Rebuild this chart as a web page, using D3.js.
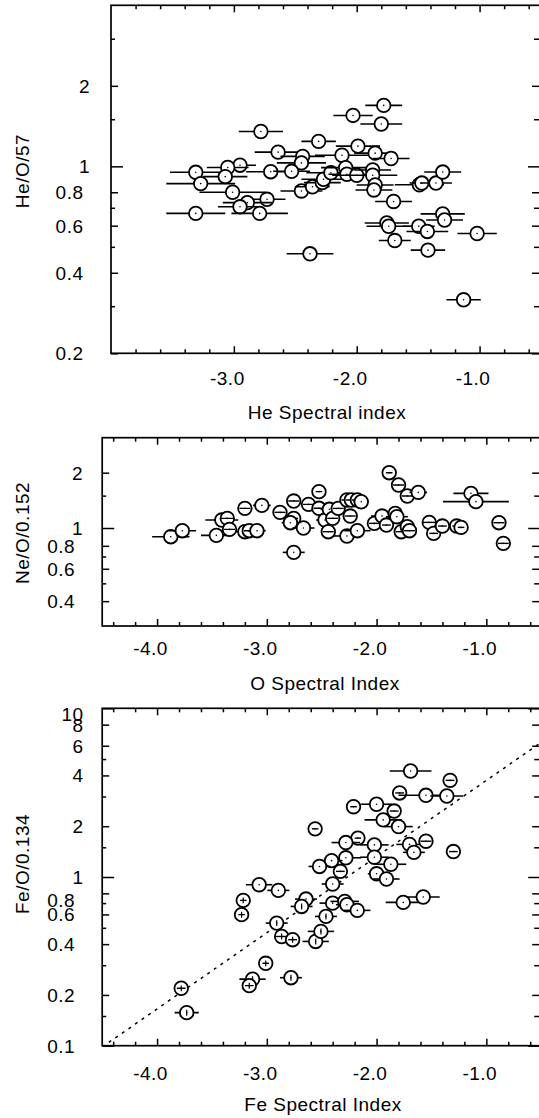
<!DOCTYPE html>
<html>
<head>
<meta charset="utf-8">
<script src="https://cdn.jsdelivr.net/npm/d3@7"></script>
<style>
  body { margin: 0; background: #fff; }
  svg text { font-family: "Liberation Sans", Arial, sans-serif; font-size: 19px; letter-spacing: 0.5px; fill: #000; }
</style>
</head>
<body>
<svg id="chart" width="539" height="1118"></svg>
<script>
// He/O (scaled by 57) vs He spectral index: [index, ratio, index error]
const heData = [
  [-1.78, 1.69, 0.15], [-2.03, 1.55, 0.16], [-1.80, 1.44, 0.17], [-2.78, 1.35, 0.18],
  [-2.31, 1.24, 0.14], [-1.99, 1.19, 0.18], [-2.64, 1.13, 0.19], [-1.85, 1.12, 0.17],
  [-2.12, 1.10, 0.22], [-2.44, 1.09, 0.18], [-2.45, 1.03, 0.20], [-1.72, 1.07, 0.15],
  [-2.95, 1.01, 0.13], [-3.05, 0.99, 0.17], [-3.31, 0.95, 0.21], [-3.07, 0.915, 0.18],
  [-2.70, 0.955, 0.20], [-2.53, 0.958, 0.15], [-3.27, 0.862, 0.28], [-3.01, 0.80, 0.27],
  [-2.73, 0.753, 0.15], [-2.89, 0.732, 0.20], [-2.95, 0.706, 0.18], [-2.79, 0.667, 0.23],
  [-3.31, 0.667, 0.24], [-2.45, 0.809, 0.17], [-2.36, 0.839, 0.14], [-2.28, 0.869, 0.15],
  [-2.27, 0.895, 0.18], [-2.21, 0.946, 0.20], [-2.09, 0.989, 0.20], [-2.08, 0.934, 0.15],
  [-2.00, 0.926, 0.20], [-1.87, 0.969, 0.15], [-1.87, 0.926, 0.20], [-1.85, 0.852, 0.15],
  [-1.86, 0.816, 0.15], [-1.70, 0.739, 0.15], [-1.755, 0.614, 0.18], [-1.74, 0.597, 0.18],
  [-1.69, 0.528, 0.13], [-1.49, 0.853, 0.20], [-1.47, 0.866, 0.10], [-1.355, 0.866, 0.13],
  [-1.30, 0.952, 0.15], [-1.30, 0.664, 0.18], [-1.285, 0.63, 0.15], [-1.495, 0.597, 0.13],
  [-1.425, 0.571, 0.17], [-1.42, 0.486, 0.14], [-1.02, 0.561, 0.16], [-1.13, 0.317, 0.14],
  [-2.38, 0.471, 0.19]
];

// Ne/O (scaled by 0.152) vs O spectral index
const neData = [
  [-3.875, 0.897, 0.17], [-3.77, 0.967, 0.125], [-3.46, 0.912, 0.14], [-3.41, 1.105, 0.15],
  [-3.36, 1.128, 0.06], [-3.34, 0.983, 0.05], [-3.20, 1.279, 0.05], [-3.20, 0.955, 0.08],
  [-3.16, 0.967, 0.05], [-3.09, 0.967, 0.08], [-3.045, 1.328, 0.08], [-2.88, 1.217, 0.05],
  [-2.755, 1.402, 0.05], [-2.755, 1.129, 0.04], [-2.785, 1.069, 0.08], [-2.666, 1.0, 0.10],
  [-2.755, 0.737, 0.10], [-2.62, 1.345, 0.05], [-2.525, 1.577, 0.03], [-2.525, 1.28, 0.05],
  [-2.47, 1.105, 0.08], [-2.44, 0.955, 0.05], [-2.43, 1.264, 0.08], [-2.40, 1.129, 0.05],
  [-2.35, 1.279, 0.05], [-2.27, 1.42, 0.05], [-2.27, 0.905, 0.12], [-2.24, 1.162, 0.05],
  [-2.23, 1.42, 0.05], [-2.175, 1.42, 0.05], [-2.14, 1.39, 0.07], [-2.175, 0.967, 0.12],
  [-2.02, 1.06, 0.05], [-1.95, 1.162, 0.10], [-1.91, 1.038, 0.04], [-1.885, 2.0, 0.03],
  [-1.80, 1.714, 0.05], [-1.83, 1.2, 0.05], [-1.815, 1.152, 0.10], [-1.775, 0.955, 0.05],
  [-1.72, 1.493, 0.05], [-1.72, 1.017, 0.04], [-1.70, 0.967, 0.05], [-1.62, 1.563, 0.08],
  [-1.52, 1.073, 0.06], [-1.48, 0.935, 0.04], [-1.40, 1.025, 0.04], [-1.27, 1.025, 0.04],
  [-1.23, 1.008, 0.03], [-1.14, 1.544, 0.16], [-1.095, 1.391, 0.30], [-0.885, 1.069, 0.05],
  [-0.845, 0.825, 0.05]
];

// Fe/O (scaled by 0.134) vs Fe spectral index: [index, ratio, index error, relative ratio error]
const feData = [
  [-1.69, 4.25, 0.19, 0], [-1.33, 3.74, 0.04, 0], [-1.79, 3.15, 0.04, 0], [-1.55, 3.05, 0.25, 0],
  [-1.36, 3.02, 0.15, 0], [-2.21, 2.61, 0.03, 0], [-2.00, 2.70, 0.14, 0], [-1.84, 2.46, 0.04, 0],
  [-1.94, 2.18, 0.17, 0], [-1.80, 1.99, 0.13, 0], [-2.56, 1.93, 0.03, 0], [-2.17, 1.70, 0.03, 0],
  [-2.28, 1.60, 0.13, 0], [-2.02, 1.55, 0.13, 0], [-1.70, 1.56, 0.12, 0], [-1.55, 1.63, 0.05, 0],
  [-1.66, 1.40, 0.10, 0], [-1.30, 1.415, 0.04, 0], [-2.02, 1.31, 0.13, 0], [-2.28, 1.30, 0.14, 0],
  [-2.41, 1.25, 0.10, 0], [-2.52, 1.155, 0.10, 0], [-1.87, 1.19, 0.14, 0], [-2.33, 1.08, 0.04, 0],
  [-2.00, 1.045, 0.08, 0], [-1.91, 0.973, 0.12, 0], [-3.07, 0.90, 0.12, 0], [-2.895, 0.833, 0.10, 0],
  [-2.40, 0.909, 0.10, 0], [-1.757, 0.707, 0.16, 0], [-1.575, 0.761, 0.15, 0], [-3.215, 0.727, 0.03, 0.04],
  [-2.643, 0.74, 0.10, 0], [-3.23, 0.598, 0.03, 0.04], [-2.683, 0.669, 0.10, 0.04], [-2.40, 0.70, 0.12, 0],
  [-2.29, 0.717, 0.13, 0], [-2.27, 0.685, 0.10, 0], [-2.176, 0.634, 0.12, 0], [-2.91, 0.533, 0.10, 0.04],
  [-2.865, 0.444, 0.06, 0.04], [-2.765, 0.425, 0.04, 0.04], [-2.555, 0.415, 0.12, 0.04], [-2.507, 0.476, 0.12, 0.04],
  [-2.461, 0.584, 0.10, 0.04], [-3.01, 0.308, 0.03, 0.04], [-3.13, 0.248, 0.12, 0.04], [-3.16, 0.227, 0.04, 0.04],
  [-2.78, 0.253, 0.10, 0.04], [-3.78, 0.219, 0.04, 0.04], [-3.73, 0.157, 0.11, 0.04]
];

// dotted fit in panel 3: log10(ratio) = logAtMinus2 + slope * (index + 2)
const feFitSlope = 0.4515;
const feFitLogAtMinus2 = 0.121;

const heXTicks = [-3, -2, -1];
const wideXTicks = [-4, -3, -2, -1];
const heYLabels = [0.2, 0.4, 0.6, 0.8, 1, 2];
const heYMinor = [0.3, 0.5, 0.7, 1.5, 3];
const neYLabels = [0.4, 0.6, 0.8, 1, 2];
const neYMinor = [0.5, 0.7, 1.5];
const feYLabels = [0.1, 0.2, 0.4, 0.6, 0.8, 1, 2, 4, 6, 8, 10];
const feYMinor = [0.15, 0.3, 0.5, 0.7, 1.5, 3, 5];

const panels = [
  { id: 'he', data: heData, box: { l: 111, r: 541, t: 5.3, b: 353.3 },
    xDomain: [-4, -0.5], yDomain: [0.2, 4], xTicks: heXTicks, yLabels: heYLabels, yMinor: heYMinor,
    xTitle: 'He Spectral index', yTitle: 'He/O/57', xLabelY: 385, xTitleX: 327, xTitleY: 418.7,
    yTitleY: 171, intGap: 21, decGap: 27.5, nudge: {} },
  { id: 'ne', data: neData, box: { l: 102.2, r: 541.2, t: 437.7, b: 626 },
    xDomain: [-4.5, -0.5], yDomain: [0.293, 3.1], xTicks: wideXTicks, yLabels: neYLabels, yMinor: neYMinor,
    xTitle: 'O Spectral Index', yTitle: 'Ne/O/0.152', xLabelY: 655, xTitleX: 325, xTitleY: 690.3,
    yTitleY: 533, intGap: 19, decGap: 27, nudge: {} },
  { id: 'fe', data: feData, box: { l: 102.2, r: 541.2, t: 708.3, b: 1045.7 },
    xDomain: [-4.5, -0.5], yDomain: [0.1, 10], xTicks: wideXTicks, yLabels: feYLabels, yMinor: feYMinor,
    xTitle: 'Fe Spectral Index', yTitle: 'Fe/O/0.134', xLabelY: 1080, xTitleX: 323, xTitleY: 1111,
    yTitleY: 864, intGap: 18.5, decGap: 27, nudge: { 10: 6, 0.8: 7 }, fit: true }
];

const svg = d3.select('#chart');
svg.append('rect').attr('width', 539).attr('height', 1118).attr('fill', '#fff');

const R = 6.8;

function drawPanel(p) {
  const b = p.box;
  const x = d3.scaleLinear().domain(p.xDomain).range([b.l, b.r]);
  const y = d3.scaleLog().domain(p.yDomain).range([b.b, b.t]);
  const g = svg.append('g');

  const xMinor = d3.range(Math.floor(p.xDomain[0] * 5) + 1, Math.ceil(p.xDomain[1] * 5))
    .map(k => k / 5).filter(v => Math.abs(v - Math.round(v)) > 1e-6);

  const decades = p.yLabels.filter(v => Math.abs(Math.log10(v) - Math.round(Math.log10(v))) < 1e-9);
  const labelled = p.yLabels.filter(v => !decades.includes(v));

  function tickAxis(axisFn, scale, pos, values, size) {
    const a = g.append('g')
      .attr('transform', pos)
      .call(axisFn(scale).tickValues(values).tickSize(-size).tickSizeOuter(0).tickFormat(''));
    a.select('.domain').remove();
    a.selectAll('line').attr('stroke', '#000').attr('stroke-width', 1.5);
  }

  // x ticks, bottom and top
  tickAxis(d3.axisBottom, x, `translate(0,${b.b})`, p.xTicks, 7);
  tickAxis(d3.axisBottom, x, `translate(0,${b.b})`, xMinor, 4);
  tickAxis(d3.axisTop, x, `translate(0,${b.t})`, p.xTicks, 7);
  tickAxis(d3.axisTop, x, `translate(0,${b.t})`, xMinor, 4);
  // y ticks, left and right (right frame edge lies just past the page)
  tickAxis(d3.axisLeft, y, `translate(${b.l},0)`, decades, 12);
  tickAxis(d3.axisLeft, y, `translate(${b.l},0)`, labelled, 7);
  tickAxis(d3.axisLeft, y, `translate(${b.l},0)`, p.yMinor, 4);
  tickAxis(d3.axisRight, y, `translate(${b.r},0)`, decades, 13);
  tickAxis(d3.axisRight, y, `translate(${b.r},0)`, labelled, 9);
  tickAxis(d3.axisRight, y, `translate(${b.r},0)`, p.yMinor, 7);

  g.append('rect')
    .attr('x', b.l).attr('y', b.t).attr('width', b.r - b.l).attr('height', b.b - b.t)
    .attr('fill', 'none').attr('stroke', '#000').attr('stroke-width', 1.7);

  // tick labels
  g.selectAll('text.xl').data(p.xTicks).join('text')
    .attr('class', 'xl')
    .attr('x', d => x(d) - 6.5).attr('y', p.xLabelY)
    .attr('text-anchor', 'middle')
    .text(d => d.toFixed(1));

  g.selectAll('text.yl').data(p.yLabels).join('text')
    .attr('class', 'yl')
    .attr('x', d => b.l - (Number.isInteger(d) ? p.intGap : p.decGap))
    .attr('y', d => y(d) + 7 + (p.nudge[d] || 0))
    .attr('text-anchor', 'end')
    .text(d => String(d));

  // titles
  g.append('text').attr('x', p.xTitleX).attr('y', p.xTitleY).attr('text-anchor', 'middle').text(p.xTitle);
  g.append('text')
    .attr('transform', `translate(28.5,${p.yTitleY}) rotate(-90)`)
    .attr('text-anchor', 'middle').text(p.yTitle);

  // plot area clip
  const clipId = 'clip-' + p.id;
  g.append('clipPath').attr('id', clipId).append('rect')
    .attr('x', b.l).attr('y', b.t).attr('width', b.r - b.l).attr('height', b.b - b.t);
  const inner = g.append('g').attr('clip-path', `url(#${clipId})`);

  if (p.fit) {
    const line = d3.line()
      .x(d => x(d))
      .y(d => y(Math.pow(10, feFitLogAtMinus2 + feFitSlope * (d + 2))));
    inner.append('path')
      .attr('d', line(p.xDomain))
      .attr('fill', 'none').attr('stroke', '#000').attr('stroke-width', 1.5)
      .attr('stroke-dasharray', '3,5');
  }

  const pts = inner.selectAll('g.pt').data(p.data).join('g').attr('class', 'pt');
  pts.append('line')
    .attr('x1', d => x(d[0] - d[2])).attr('x2', d => x(d[0] + d[2]))
    .attr('y1', d => y(d[1])).attr('y2', d => y(d[1]))
    .attr('stroke', '#000').attr('stroke-width', 1.6);
  pts.append('circle')
    .attr('cx', d => x(d[0])).attr('cy', d => y(d[1])).attr('r', R)
    .attr('fill', '#fff').attr('stroke', '#000').attr('stroke-width', 1.8);
  // error bars that fit inside the symbol stay visible
  pts.filter(d => x(d[0] + d[2]) - x(d[0]) < R).append('line')
    .attr('x1', d => x(d[0] - d[2])).attr('x2', d => x(d[0] + d[2]))
    .attr('y1', d => y(d[1])).attr('y2', d => y(d[1]))
    .attr('stroke', '#000').attr('stroke-width', 1.4);
  pts.filter(d => d[3]).append('line')
    .attr('x1', d => x(d[0])).attr('x2', d => x(d[0]))
    .attr('y1', d => y(d[1] * (1 - d[3]))).attr('y2', d => y(d[1] * (1 + d[3])))
    .attr('stroke', '#000').attr('stroke-width', 1.2);
  pts.append('circle')
    .attr('cx', d => x(d[0])).attr('cy', d => y(d[1])).attr('r', 0.8)
    .attr('fill', '#000');
}

panels.forEach(drawPanel);
</script>
</body>
</html>
